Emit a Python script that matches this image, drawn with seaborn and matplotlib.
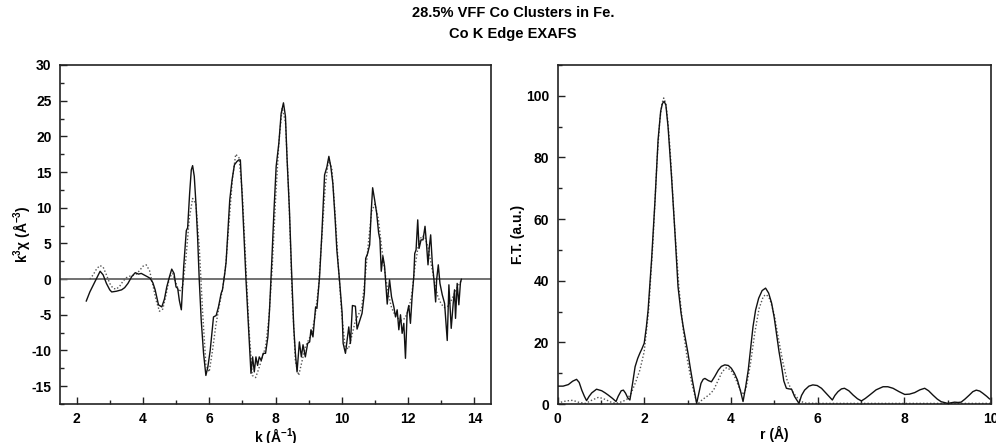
import numpy as np
import pandas as pd
import matplotlib
matplotlib.use("Agg")
import matplotlib.pyplot as plt
from matplotlib.ticker import MultipleLocator
import seaborn as sns

# ---------------- data: left panel (k^3 chi) ----------------
k_data = [2.29, 2.40, 2.55, 2.71, 2.80, 2.90, 3.00, 3.06, 3.20, 3.36, 3.45, 3.55, 3.67, 3.77,
          3.87, 3.95, 4.07, 4.15, 4.22, 4.30, 4.37, 4.47, 4.57, 4.65, 4.72, 4.80, 4.87, 4.94,
          5.00, 5.05, 5.10, 5.16, 5.23, 5.28, 5.31, 5.35, 5.41, 5.46, 5.50, 5.55, 5.60, 5.65,
          5.70, 5.76, 5.83, 5.90, 5.96, 6.03, 6.10, 6.13, 6.21, 6.28, 6.36, 6.40, 6.47, 6.51,
          6.56, 6.62, 6.69, 6.76, 6.84, 6.89, 6.94, 6.99, 7.05, 7.11, 7.19, 7.26, 7.31, 7.36,
          7.41, 7.46, 7.51, 7.57, 7.63, 7.70, 7.77, 7.82, 7.88, 7.95, 8.02, 8.10, 8.17, 8.24,
          8.30, 8.35, 8.42, 8.48, 8.55, 8.60, 8.65, 8.72, 8.78, 8.83, 8.90, 8.97, 9.03, 9.07,
          9.13, 9.21, 9.25, 9.33, 9.40, 9.48, 9.55, 9.61, 9.67, 9.73, 9.80, 9.85, 9.93, 10.01,
          10.04, 10.11, 10.16, 10.21, 10.26, 10.32, 10.41, 10.46, 10.54, 10.61, 10.68, 10.72,
          10.78, 10.84, 10.89, 10.93, 10.99, 11.05, 11.11, 11.15, 11.19, 11.24, 11.29, 11.37,
          11.44, 11.50, 11.57, 11.62, 11.67, 11.72, 11.77, 11.82, 11.87, 11.92, 11.97, 12.02,
          12.07, 12.12, 12.17, 12.20, 12.24, 12.29, 12.33, 12.39, 12.45, 12.51, 12.55, 12.60,
          12.64, 12.68, 12.73, 12.78, 12.83, 12.86, 12.91, 12.96, 13.03, 13.10, 13.18, 13.23,
          13.30, 13.36, 13.40, 13.43, 13.48, 13.53, 13.58, 13.61]
chi_data = [-3.1, -1.8, -0.4, 1.1, 0.6, -0.6, -1.5, -1.8, -1.7, -1.5, -1.2, -0.6, 0.4, 0.9,
            0.7, 0.8, 0.5, 0.3, 0.1, -0.5, -1.5, -3.6, -3.9, -2.8, -1.1, 0.3, 1.4, 0.8,
            -1.1, -1.3, -3.0, -4.3, 1.7, 5.0, 6.8, 7.2, 12.0, 15.3, 15.9, 14.4, 10.6, 5.9,
            -0.1, -5.8, -10.4, -13.5, -12.3, -10.0, -6.7, -5.3, -5.1, -3.9, -2.0, -1.5, 0.8, 2.4,
            6.4, 11.1, 13.9, 16.0, 16.5, 16.7, 16.7, 12.0, 5.9, -0.1, -7.2, -13.2, -10.9, -13.0,
            -10.9, -12.1, -10.9, -11.4, -10.4, -10.4, -8.1, -4.3, 1.7, 9.2, 15.8, 19.0, 23.2, 24.7,
            22.8, 16.7, 9.7, 1.7, -6.7, -10.4, -13.0, -8.8, -10.9, -9.2, -10.9, -9.0, -8.8, -7.1,
            -8.1, -3.9, -4.1, 0.4, 6.5, 14.6, 15.7, 17.2, 15.7, 13.4, 8.3, 4.1, -0.1, -4.8,
            -9.0, -10.4, -8.6, -6.7, -9.0, -3.7, -3.8, -7.0, -5.8, -4.8, -2.0, 2.9,
            3.6, 4.8, 9.7, 12.8, 11.1, 9.3, 6.5, 5.5, 1.1, 3.2, 1.8, -3.5,
            -0.1, -2.5, -3.9, -5.3, -4.3, -7.1, -5.0, -7.6, -6.2, -11.1, -4.8, -3.7,
            -6.2, -2.5, 0.3, 3.6, 4.1, 8.3, 4.3, 5.5, 5.5, 7.4, 5.2, 2.0,
            4.5, 6.2, 2.2, -0.1, -3.2, -0.1, 2.0, -0.6, -2.2, -3.4, -8.6, -0.8,
            -6.9, -3.4, -1.5, -5.5, -0.6, -3.6, -0.4, 0.0]

k_fit = [2.4, 2.5, 2.6, 2.7, 2.8, 2.9, 3.0, 3.1, 3.2, 3.3, 3.4, 3.5, 3.6, 3.7, 3.8, 3.9, 4.0,
         4.1, 4.2, 4.3, 4.4, 4.5, 4.6, 4.7, 4.8, 4.9, 5.0, 5.1, 5.2, 5.3, 5.4, 5.5, 5.6, 5.7,
         5.8, 5.9, 6.0, 6.1, 6.2, 6.3, 6.4, 6.5, 6.6, 6.7, 6.8, 6.9, 7.0, 7.1, 7.2, 7.3, 7.4,
         7.5, 7.6, 7.7, 7.8, 7.9, 8.0, 8.1, 8.2, 8.3, 8.4, 8.5, 8.6, 8.7, 8.8, 8.9, 9.0, 9.1,
         9.2, 9.3, 9.4, 9.5, 9.6, 9.7, 9.8, 9.9, 10.0, 10.1, 10.2, 10.3, 10.4, 10.5, 10.6, 10.7,
         10.8, 10.9, 11.0, 11.1, 11.2, 11.3, 11.4, 11.5, 11.6, 11.7, 11.8, 11.9, 12.0, 12.1,
         12.2, 12.3, 12.4, 12.5, 12.6, 12.7, 12.8, 12.9, 13.0, 13.1, 13.2, 13.3, 13.4, 13.5, 13.6]
chi_fit = [0.0, 0.6, 1.4, 1.9, 1.7, 0.6, -0.6, -1.3, -1.4, -1.0, -0.3, 0.2, 0.4, 0.5, 0.7, 1.2, 1.8,
           2.0, 1.2, -0.8, -3.0, -4.5, -4.2, -2.2, 0.2, 0.8, -0.6, -1.8, -1.0, 3.0, 8.5, 11.3, 10.5, 4.5,
           -4.5, -12.0, -13.0, -10.0, -6.5, -3.8, -1.5, 2.0, 8.0, 14.0, 17.5, 17.0, 12.0, 2.5, -7.0, -13.5, -13.8,
           -12.5, -11.0, -9.5, -5.5, 1.5, 11.0, 19.0, 24.0, 22.0, 12.0, -2.0, -11.5, -13.5, -11.5, -9.5, -8.5, -7.5,
           -5.0, -1.0, 6.0, 13.0, 16.8, 15.5, 9.0, 1.5, -5.0, -9.5, -9.8, -8.0, -6.0, -5.0, -4.0, 0.0,
           5.0, 9.5, 10.5, 8.5, 4.5, 1.0, -2.0, -4.0, -5.0, -5.5, -5.8, -5.5, -4.5, -2.5,
           1.5, 4.5, 6.0, 6.0, 4.5, 2.0, -0.5, -2.5, -3.5, -4.0, -3.8, -3.0, -2.0, -1.0, -0.3]

# ---------------- data: right panel (Fourier transform) ----------------
r_data = [0.00, 0.13, 0.25, 0.35, 0.44, 0.50, 0.56, 0.62, 0.67, 0.73, 0.79, 0.90, 1.02, 1.10,
          1.17, 1.27, 1.35, 1.40, 1.47, 1.52, 1.57, 1.62, 1.67, 1.73, 1.79, 1.85, 1.90, 1.95,
          2.00, 2.05, 2.09, 2.17, 2.25, 2.32, 2.38, 2.42, 2.46, 2.50, 2.55, 2.63, 2.71, 2.78,
          2.85, 2.90, 2.96, 3.01, 3.06, 3.11, 3.16, 3.21, 3.26, 3.31, 3.36, 3.40, 3.48, 3.55,
          3.63, 3.71, 3.78, 3.86, 3.94, 4.01, 4.08, 4.15, 4.22, 4.28, 4.34, 4.40, 4.45, 4.51,
          4.57, 4.64, 4.72, 4.80, 4.87, 4.94, 5.00, 5.05, 5.11, 5.17, 5.22, 5.28, 5.34, 5.40,
          5.47, 5.57, 5.63, 5.70, 5.80, 5.89, 5.99, 6.09, 6.17, 6.24, 6.34, 6.40, 6.47, 6.55,
          6.62, 6.72, 6.82, 6.92, 7.01, 7.10, 7.20, 7.35, 7.51, 7.62, 7.74, 7.88, 8.01, 8.12,
          8.24, 8.36, 8.47, 8.56, 8.66, 8.76, 8.85, 9.00, 9.08, 9.16, 9.24, 9.31, 9.40, 9.50,
          9.58, 9.66, 9.74, 9.81, 9.90, 9.97]
ft_data = [5.8, 5.8, 6.3, 7.4, 8.0, 7.0, 4.5, 2.5, 1.1, 2.5, 3.6, 4.8, 4.3, 3.6,
           2.9, 1.8, 0.8, 2.5, 4.3, 4.5, 3.5, 2.0, 1.3, 6.5, 12.1, 14.8, 16.5, 18.0,
           19.7, 25.0, 30.5, 46.8, 66.2, 85.7, 95.0, 97.5, 98.2, 97.0, 90.0, 73.8, 55.4, 38.1,
           29.5, 25.1, 20.5, 16.5, 12.0, 7.8, 4.0, 0.2, 3.5, 6.7, 8.0, 8.3, 7.6, 7.2,
           9.0, 11.0, 12.2, 12.7, 12.5, 11.6, 10.0, 7.8, 4.3, 0.8, 5.5, 11.0, 17.5, 25.1,
           30.5, 34.3, 36.8, 37.6, 36.0, 32.7, 28.0, 23.0, 17.0, 12.1, 7.5, 5.1, 4.9, 4.8,
           2.4, 0.2, 2.8, 4.5, 5.8, 6.2, 6.0, 5.1, 3.9, 2.8, 1.3, 2.8, 4.0, 4.9,
           5.1, 4.3, 2.9, 1.7, 1.0, 1.8, 2.9, 4.6, 5.6, 5.6, 5.1, 4.0, 3.1, 3.2,
           3.7, 4.6, 5.1, 4.3, 2.9, 1.6, 0.75, 0.2, 0.4, 0.6, 0.5, 0.6, 1.6, 2.9,
           4.0, 4.5, 4.2, 3.5, 2.5, 1.6]

r_fit = [0.0, 0.2, 0.35, 0.5, 0.65, 0.8, 0.95, 1.1, 1.25, 1.35, 1.5, 1.6, 1.7, 1.8, 1.9, 2.0,
         2.1, 2.2, 2.3, 2.36, 2.41, 2.45, 2.5, 2.55, 2.6, 2.7, 2.8, 2.9, 3.0, 3.1, 3.2, 3.25, 3.35,
         3.5, 3.6, 3.7, 3.8, 3.9, 4.0, 4.1, 4.2, 4.28, 4.35, 4.45, 4.55, 4.65, 4.75, 4.82, 4.9,
         5.0, 5.1, 5.2, 5.3, 5.4, 5.5, 5.6, 5.7, 6.0, 7.0, 8.0, 9.0, 10.0]
ft_fit = [0.3, 1.0, 1.2, 0.5, 0.2, 1.3, 2.2, 1.5, 0.5, 0.2, 0.8, 1.5, 3.5, 7.0, 11.0, 17.0,
          30.0, 52.0, 80.0, 92.0, 97.5, 99.3, 97.5, 91.0, 82.0, 58.0, 38.0, 24.0, 14.0, 6.5, 1.0, 0.3,
          1.5, 3.0, 4.5, 7.5, 10.5, 11.8, 11.0, 8.5, 5.0, 3.0, 5.0, 13.0, 23.0, 31.0, 35.0, 35.5,
          34.0, 29.0, 21.0, 13.5, 7.5, 4.5, 2.5, 1.0, 0.3, 0.2, 0.2, 0.2, 0.2, 0.2]

title_lines = ["28.5% VFF Co Clusters in Fe.", "Co K Edge EXAFS"]

# ---------------- style ----------------
sns.set_theme(style="ticks")
plt.rcParams["font.family"] = ["Liberation Sans", "DejaVu Sans"]
plt.rcParams["font.weight"] = "bold"
plt.rcParams["axes.unicode_minus"] = False
plt.rcParams["text.color"] = "black"
plt.rcParams["axes.labelcolor"] = "black"
plt.rcParams["xtick.color"] = "black"
plt.rcParams["ytick.color"] = "black"
plt.rcParams["mathtext.fontset"] = "custom"
plt.rcParams["mathtext.rm"] = "Liberation Sans:bold"
plt.rcParams["mathtext.it"] = "Liberation Sans:bold"
plt.rcParams["mathtext.bf"] = "Liberation Sans:bold"

fig = plt.figure(figsize=(9.96, 4.43), dpi=100)
ax1 = fig.add_axes([60 / 996, 1 - 404 / 443, (491 - 60) / 996, (404 - 65) / 443])
ax2 = fig.add_axes([557.5 / 996, 1 - 404 / 443, (991 - 557.5) / 996, (404 - 65) / 443])

df_k = pd.DataFrame({"k": k_data, "v": chi_data})
df_kf = pd.DataFrame({"k": k_fit, "v": chi_fit})
df_r = pd.DataFrame({"r": r_data, "v": ft_data})
df_rf = pd.DataFrame({"r": r_fit, "v": ft_fit})

ax1.axhline(0, color="#666666", lw=1.3, zorder=1)
sns.lineplot(data=df_kf, x="k", y="v", ax=ax1, color="#555555", lw=1.0, linestyle=(0, (1, 1.5)),
             sort=False, estimator=None, zorder=2)
sns.lineplot(data=df_k, x="k", y="v", ax=ax1, color="#111111", lw=1.0,
             sort=False, estimator=None, zorder=3)

sns.lineplot(data=df_rf, x="r", y="v", ax=ax2, color="#555555", lw=1.0, linestyle=(0, (1, 1.5)),
             sort=False, estimator=None, zorder=2)
sns.lineplot(data=df_r, x="r", y="v", ax=ax2, color="#111111", lw=1.0,
             sort=False, estimator=None, zorder=3)

ax1.set_xlim(1.5, 14.5)
ax1.set_ylim(-17.5, 30)
ax1.xaxis.set_major_locator(MultipleLocator(2))
ax1.xaxis.set_minor_locator(MultipleLocator(1))
ax1.yaxis.set_major_locator(MultipleLocator(5))
ax1.yaxis.set_minor_locator(MultipleLocator(2.5))

ax2.set_xlim(0, 10)
ax2.set_ylim(0, 110)
ax2.xaxis.set_major_locator(MultipleLocator(2))
ax2.xaxis.set_minor_locator(MultipleLocator(1))
ax2.yaxis.set_major_locator(MultipleLocator(20))
ax2.yaxis.set_minor_locator(MultipleLocator(10))

for ax in (ax1, ax2):
    for s in ax.spines.values():
        s.set_visible(True)
        s.set_color("#222222")
        s.set_linewidth(1.2)
    ax.tick_params(which="both", direction="in", top=False, right=False,
                   labelsize=10, color="#222222", width=1.0)
    ax.tick_params(which="major", length=5, pad=6)
    ax.tick_params(which="minor", length=3)
    for lab in ax.get_xticklabels() + ax.get_yticklabels():
        lab.set_fontweight("bold")

ax1.set_xlabel("k (Å$^{-1}$)", fontsize=10, fontweight="bold", labelpad=0)
ax1.set_ylabel("k$^{3}$χ (Å$^{-3}$)", fontsize=10, fontweight="bold", labelpad=0)
ax2.set_xlabel("r (Å)", fontsize=10, fontweight="bold", labelpad=0)
ax2.set_ylabel("F.T. (a.u.)", fontsize=10, fontweight="bold", labelpad=1)

fig.text(0.515, 1 - 13 / 443, title_lines[0], ha="center", va="center", fontsize=10.5, fontweight="bold")
fig.text(0.515, 1 - 34 / 443, title_lines[1], ha="center", va="center", fontsize=10.5, fontweight="bold")

fig.savefig("out.png", dpi=100)
